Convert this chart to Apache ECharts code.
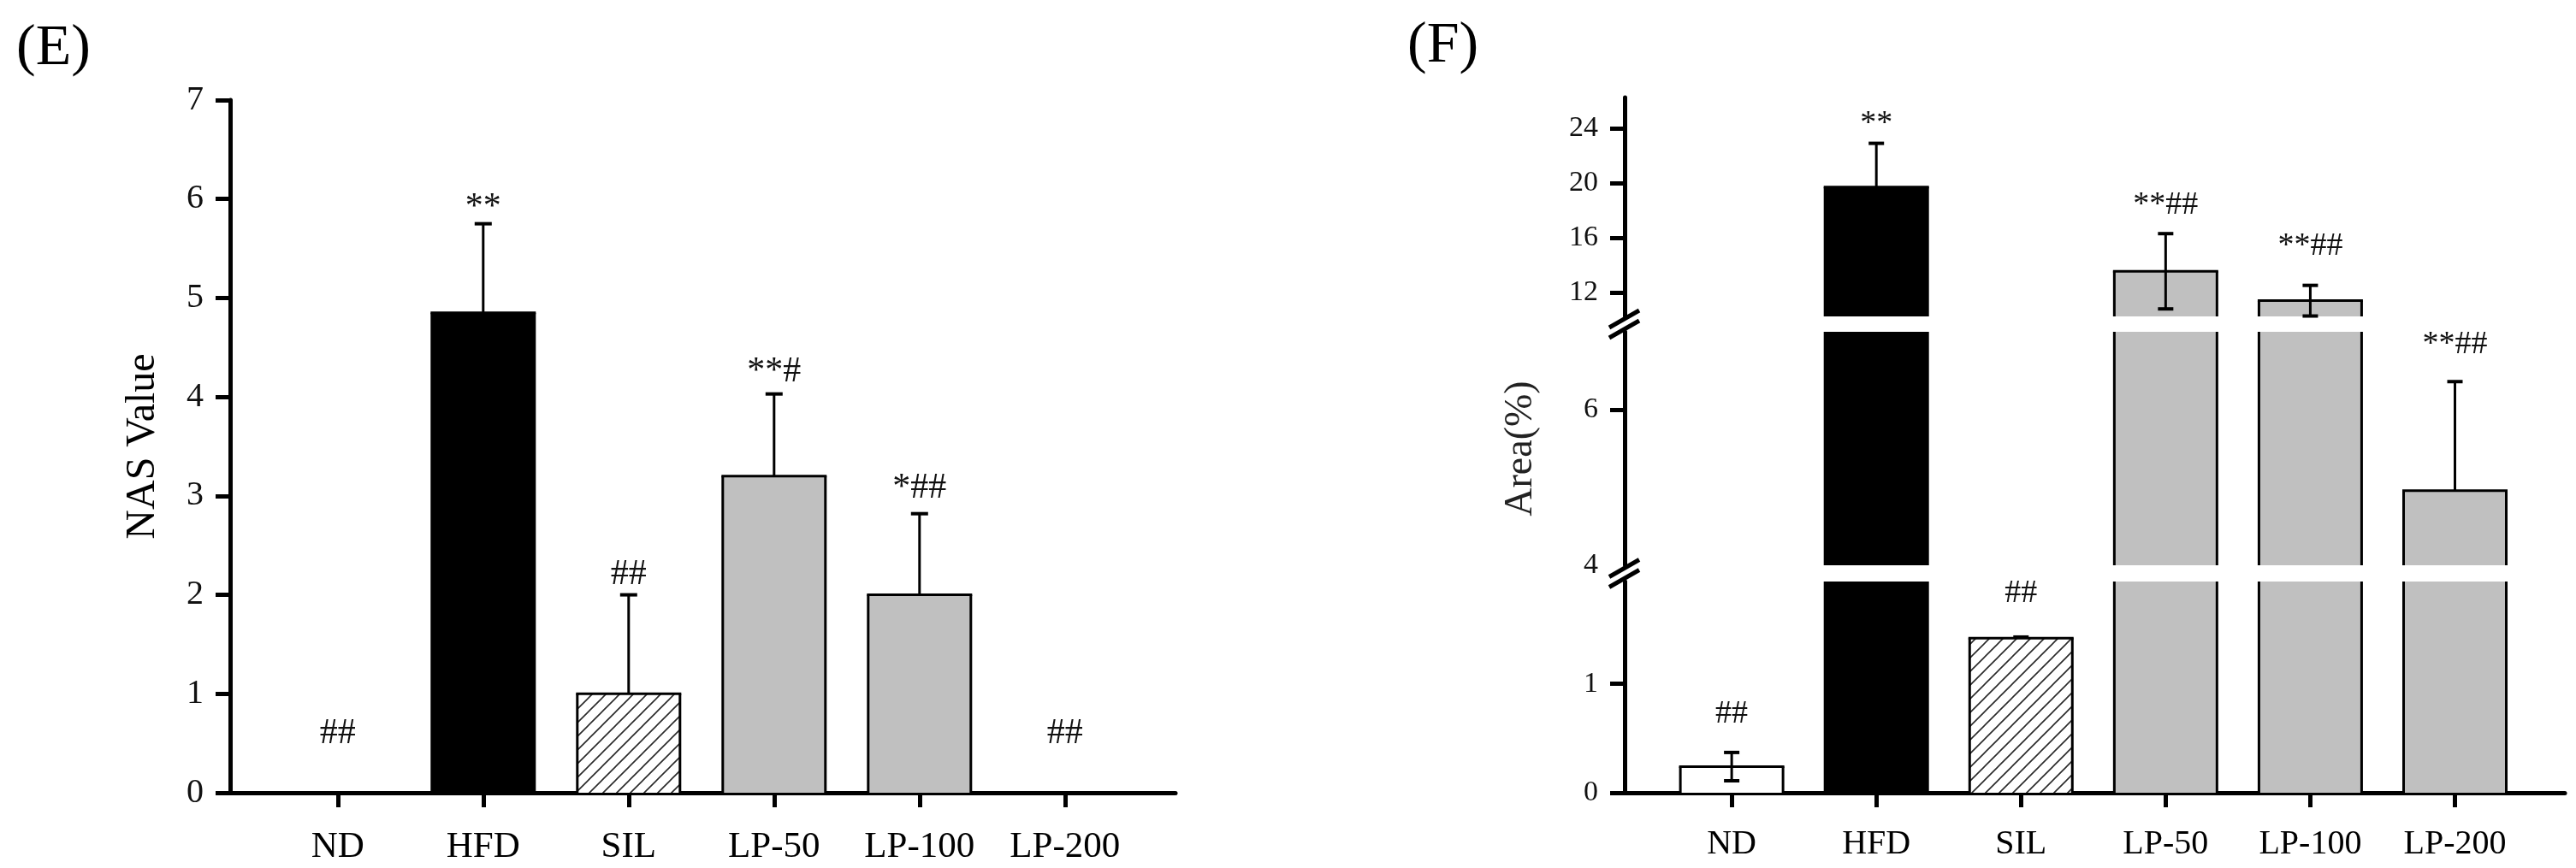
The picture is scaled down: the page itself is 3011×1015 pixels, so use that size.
<!DOCTYPE html>
<html>
<head>
<meta charset="utf-8">
<script src="https://cdn.jsdelivr.net/npm/echarts@6/dist/echarts.min.js"></script>
<style>html,body{margin:0;padding:0;background:#fff;}#c{width:3011px;height:1015px;}</style>
</head>
<body>
<div id="c"></div>
<script>
// ---------- data ----------
const categories = ['ND', 'HFD', 'SIL', 'LP-50', 'LP-100', 'LP-200'];
const catIndex = [0, 1, 2, 3, 4, 5];

// Panel E : NAS Value
const nasMean = [0, 4.85, 1.0, 3.2, 2.0, 0];
const nasSD   = [0, 0.9, 1.0, 0.83, 0.82, 0];
const nasSig  = ['##', '**', '##', '**#', '*##', '##'];
const nasSigY = [0.6, 5.91, 2.2, 4.25, 3.08, 0.6];
const nasTicks = [0, 1, 2, 3, 4, 5, 6, 7];

// Panel F : Area(%)
const areaMean = [0.24, 19.7, 1.42, 13.55, 11.4, 4.96];
const areaSD   = [0.13, 3.2, 0.01, 2.75, 1.12, 1.4];
const areaSig  = ['##', '**', '##', '**##', '**##', '**##'];
const areaSigY = [0.72, 24.3, 1.83, 18.4, 15.4, 6.84];
const areaTicksTop = [12, 16, 20, 24];
const areaTicksMid = [4, 6];
const areaTickMarksMid = [6];
const areaTicksLow = [0, 1];

// ---------- styles ----------
const SERIF = 'Liberation Serif';
const GREY = '#c0c0c0';
function hatch() {
  const c = document.createElement('canvas');
  c.width = 16; c.height = 16;
  const g = c.getContext('2d');
  g.fillStyle = '#fff'; g.fillRect(0, 0, 16, 16);
  g.strokeStyle = '#2a2a2a'; g.lineWidth = 1.6;
  g.beginPath();
  g.moveTo(-4, 20); g.lineTo(20, -4);
  g.moveTo(-20, 20); g.lineTo(4, -4);
  g.moveTo(12, 20); g.lineTo(36, -4);
  g.stroke();
  return { image: c, repeat: 'repeat' };
}
const hatchFill = hatch();
const fillsE = ['#fff', '#000', hatchFill, GREY, GREY, GREY];
const fillsF = ['#fff', '#000', hatchFill, GREY, GREY, GREY];
const bothF = [true, false, false, true, true, false];
const bothE = [false, false, false, false, false, false];

const X_MIN = -0.74, X_MAX = 5.76;
const BAR_W = 120;

function barData(means, fills) {
  return catIndex.map((i) => ({ value: [i, means[i]], itemStyle: { color: fills[i] } }));
}
function decoData(means, sds, sigY) {
  return catIndex.map((i) => [i, means[i], sds[i], sigY[i]]);
}

function decoRenderer(sigArr, bothArr, lo, hi, st) {
  return function (params, api) {
    const idx = params.dataIndex;
    const i = api.value(0), m = api.value(1), s = api.value(2), sy = api.value(3);
    const cs = params.coordSys;
    const top = cs.y, bot = cs.y + cs.height;
    const clamp = (v) => Math.max(top, Math.min(bot, v));
    const pm = api.coord([i, m]);
    const p0 = api.coord([i, 0]);
    const cx = pm[0], hw = BAR_W / 2;
    const yt = clamp(pm[1]), yb = clamp(p0[1]);
    const ch = [];
    const bs = { stroke: '#000', lineWidth: st.border, fill: null };
    if (m > 0 && yb - yt > 0.5) {
      ch.push({ type: 'line', shape: { x1: cx - hw, y1: yb, x2: cx - hw, y2: yt }, style: bs });
      ch.push({ type: 'line', shape: { x1: cx + hw, y1: yb, x2: cx + hw, y2: yt }, style: bs });
      if (m >= lo && m <= hi) {
        ch.push({ type: 'line', shape: { x1: cx - hw - st.border / 2, y1: pm[1], x2: cx + hw + st.border / 2, y2: pm[1] }, style: bs });
      }
    }
    const es = { stroke: '#000', lineWidth: st.err, fill: null };
    const cps = { stroke: '#000', lineWidth: st.capW, fill: null };
    if (s > 0) {
      const dirs = bothArr[idx] ? [1, -1] : [1];
      dirs.forEach((d) => {
        const e = m + d * s;
        const pe = api.coord([i, e]);
        const a = clamp(pm[1]), b = clamp(pe[1]);
        if (Math.abs(a - b) > 0.5) {
          ch.push({ type: 'line', shape: { x1: cx, y1: a, x2: cx, y2: b }, style: es });
        }
        if (e >= lo && e <= hi) {
          ch.push({ type: 'line', shape: { x1: cx - st.cap / 2, y1: pe[1], x2: cx + st.cap / 2, y2: pe[1] }, style: cps });
        }
      });
    }
    if (sy >= lo && sy <= hi) {
      const ps = api.coord([i, sy]);
      ch.push({
        type: 'text', x: ps[0], y: ps[1],
        style: { text: sigArr[idx], fill: st.sigColor, fontSize: st.sigSize, fontFamily: SERIF,
                 align: 'center', verticalAlign: 'middle' }
      });
    }
    return { type: 'group', children: ch };
  };
}

function breakRenderer(params, api) {
  const cs = params.coordSys;
  const ch = [];
  const gaps = [cs.y - 9, cs.y + cs.height + 9.5];
  gaps.forEach((yc) => {
    [-6, 6].forEach((dy) => {
      ch.push({ type: 'line', shape: { x1: cs.x - 18, y1: yc + dy + 10, x2: cs.x + 17, y2: yc + dy - 10 },
                style: { stroke: '#000', lineWidth: 5 } });
    });
  });
  return { type: 'group', children: ch };
}

function xAxisDef(gridIndex, show, fontSize, margin) {
  return {
    type: 'value', gridIndex: gridIndex, min: X_MIN, max: X_MAX, show: show,
    splitLine: { show: false },
    axisLine: { show: show, onZero: false, lineStyle: { color: '#000', width: 5 } },
    axisTick: { show: show, customValues: catIndex, length: 17, lineStyle: { color: '#000', width: 5 } },
    axisLabel: { show: show, customValues: catIndex, margin: margin,
                 formatter: (v) => categories[Math.round(v)] || '',
                 color: '#000', fontSize: fontSize, fontFamily: SERIF }
  };
}
function yAxisDef(gridIndex, min, max, labels, ticks, fontSize, extra) {
  const ax = {
    type: 'value', gridIndex: gridIndex, min: min, max: max,
    splitLine: { show: false },
    axisLine: { show: true, onZero: false, lineStyle: { color: '#000', width: 5 } },
    axisTick: { show: true, customValues: ticks, length: 17, lineStyle: { color: '#000', width: 5 } },
    axisLabel: { show: true, customValues: labels, margin: 31, color: '#111', fontSize: fontSize, fontFamily: SERIF }
  };
  return Object.assign(ax, extra || {});
}

const stE = { border: 3, err: 3, capW: 4, cap: 20, sigSize: 42, sigColor: '#111' };
const stF = { border: 3, err: 3, capW: 4, cap: 18, sigSize: 38, sigColor: '#111' };

const option = {
  animation: false,
  backgroundColor: '#fff',
  textStyle: { fontFamily: SERIF },
  title: [
    { text: '(E)', left: 14, top: 18, textStyle: { fontSize: 68, fontWeight: 'normal', fontFamily: SERIF, color: '#000' } },
    { text: '(F)', left: 1640, top: 15, textStyle: { fontSize: 68, fontWeight: 'normal', fontFamily: SERIF, color: '#000' } }
  ],
  grid: [
    { left: 269, top: 117, width: 1105, height: 810, outerBoundsMode: 'none', containLabel: false },
    { left: 1899, top: 114, width: 1099, height: 256, outerBoundsMode: 'none', containLabel: false },
    { left: 1899, top: 388, width: 1099, height: 273, outerBoundsMode: 'none', containLabel: false },
    { left: 1899, top: 680, width: 1099, height: 247, outerBoundsMode: 'none', containLabel: false }
  ],
  xAxis: [
    xAxisDef(0, true, 43, 42),
    xAxisDef(1, false, 40, 40),
    xAxisDef(2, false, 40, 40),
    xAxisDef(3, true, 40, 40)
  ],
  yAxis: [
    yAxisDef(0, 0, 7, nasTicks, nasTicks, 40, {
      name: 'NAS Value', nameLocation: 'middle', nameRotate: 90, nameGap: 78,
      nameTextStyle: { fontSize: 48, fontFamily: SERIF, color: '#000' }
    }),
    yAxisDef(1, 10.25, 26.25, areaTicksTop, areaTicksTop, 34),
    yAxisDef(2, 4, 7, areaTicksMid, areaTickMarksMid, 34, {
      name: 'Area(%)', nameLocation: 'middle', nameRotate: 90, nameGap: 98,
      nameTextStyle: { fontSize: 46, fontFamily: SERIF, color: '#222' }
    }),
    yAxisDef(3, 0, 1.94, areaTicksLow, areaTicksLow, 34)
  ],
  series: [
    { type: 'bar', xAxisIndex: 0, yAxisIndex: 0, barWidth: BAR_W, data: barData(nasMean, fillsE), itemStyle: { borderWidth: 0 }, z: 2 },
    { type: 'custom', xAxisIndex: 0, yAxisIndex: 0, clip: false, z: 5,
      renderItem: decoRenderer(nasSig, bothE, 0, 7, stE), data: decoData(nasMean, nasSD, nasSigY) },

    { type: 'bar', xAxisIndex: 1, yAxisIndex: 1, barWidth: BAR_W, data: barData(areaMean, fillsF), itemStyle: { borderWidth: 0 }, z: 2 },
    { type: 'custom', xAxisIndex: 1, yAxisIndex: 1, clip: false, z: 5,
      renderItem: decoRenderer(areaSig, bothF, 10.25, 26.25, stF), data: decoData(areaMean, areaSD, areaSigY) },

    { type: 'bar', xAxisIndex: 2, yAxisIndex: 2, barWidth: BAR_W, data: barData(areaMean, fillsF), itemStyle: { borderWidth: 0 }, z: 2 },
    { type: 'custom', xAxisIndex: 2, yAxisIndex: 2, clip: false, z: 5,
      renderItem: decoRenderer(areaSig, bothF, 4, 7, stF), data: decoData(areaMean, areaSD, areaSigY) },

    { type: 'bar', xAxisIndex: 3, yAxisIndex: 3, barWidth: BAR_W, data: barData(areaMean, fillsF), itemStyle: { borderWidth: 0 }, z: 2 },
    { type: 'custom', xAxisIndex: 3, yAxisIndex: 3, clip: false, z: 5,
      renderItem: decoRenderer(areaSig, bothF, 0, 1.94, stF), data: decoData(areaMean, areaSD, areaSigY) },

    { type: 'custom', xAxisIndex: 2, yAxisIndex: 2, clip: false, z: 6, renderItem: breakRenderer, data: [[0, 5]] }
  ]
};

const chart = echarts.init(document.getElementById('c'), null, { renderer: 'canvas', devicePixelRatio: 1 });
chart.setOption(option);
</script>
</body>
</html>
